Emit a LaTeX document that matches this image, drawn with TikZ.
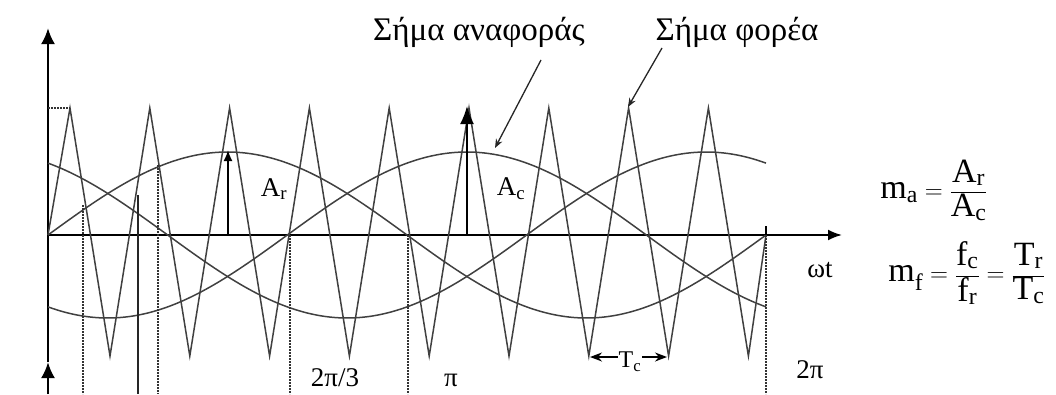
\documentclass[tikz,border=0pt]{standalone}
\usepackage{fontspec}
\setmainfont{Liberation Serif}
\usetikzlibrary{arrows.meta}
\begin{document}
\begin{tikzpicture}[x=1pt,y=-1pt,
  wave/.style={draw=black!75, line width=1.5pt, line join=miter},
  axisline/.style={draw=black, line width=2.6pt},
  guide/.style={draw=black!80, line width=1.4pt, dash pattern=on 1.6pt off 1.4pt},
  pointer/.style={draw=black!85, line width=1.3pt, -{Stealth[length=9pt,width=7pt]}},
  greek/.style={font=\fontsize{33}{38}\selectfont, inner sep=0pt},
  lbl/.style={font=\fontsize{27}{31}\selectfont, inner sep=0pt},
  formula/.style={font=\fontsize{34}{38}\selectfont, inner sep=0pt}]
\useasboundingbox (0,0) rectangle (1056,394);
% axes
\coordinate (O) at (48,235);
\coordinate (ybot) at (48,394);
\coordinate (ymid) at (48,362);
\coordinate (ytop) at (48,28);
\coordinate (xend) at (842,235);
\draw[axisline, -{Latex[length=16pt,width=14pt]}] (ybot) -- (ymid);
\draw[axisline, -{Latex[length=16pt,width=14pt]}] (ymid) -- (ytop);
\draw[axisline, line width=2pt, -{Latex[length=14pt,width=11pt]}] (O) -- (xend);
% reference signals (three phases)
\draw[wave] plot[domain=48:766,samples=160,smooth] (\x,{235-83*sin((\x-48)/718*360)});
\draw[wave] plot[domain=48:766,samples=160,smooth] (\x,{235-83*sin((\x-48)/718*360-120)});
\draw[wave] plot[domain=48:766,samples=160,smooth] (\x,{235-83*sin((\x-48)/718*360+120)});
% carrier triangle
\draw[wave] (48,235) \foreach \k in {0,...,8} { -- ({70+79.8*\k},108) -- ({110+79.8*\k},356) } -- (766,235);
% dashed top marker
\coordinate (pk) at (70,108);
\coordinate (pky) at (48,108);
\draw[guide, line width=1.6pt] (pky) -- (pk);
% vertical guides
\coordinate (g1a) at (83,205);   \coordinate (g1b) at (83,394);
\coordinate (g2a) at (138,195);  \coordinate (g2b) at (138,394);
\coordinate (g3a) at (158,165);  \coordinate (g3b) at (158,394);
\coordinate (g4a) at (290,235);  \coordinate (g4b) at (290,394);
\coordinate (g5a) at (408,235);  \coordinate (g5b) at (408,394);
\coordinate (g6a) at (766,235);  \coordinate (g6b) at (766,394);
\draw[guide] (g1a) -- (g1b);
\draw[draw=black!85, line width=1.6pt] (g2a) -- (g2b);
\draw[guide] (g3a) -- (g3b);
\draw[guide] (g4a) -- (g4b);
\draw[guide] (g5a) -- (g5b);
\draw[guide] (g6a) -- (g6b);
\coordinate (tk) at (766,226);
\draw[draw=black, line width=1.6pt] (tk) -- (g6a);
% amplitude arrows
\coordinate (ar0) at (228,235); \coordinate (ar1) at (228,150);
\draw[draw=black, line width=1.8pt, -{Latex[length=11pt,width=9pt]}] (ar0) -- (ar1);
\coordinate (ac0) at (467,235); \coordinate (ac1) at (467,106);
\draw[draw=black, line width=1.8pt, -{Latex[length=18pt,width=14pt]}] (ac0) -- (ac1);
\node[lbl] (Ar) at (274,189) {A\textsubscript{r}};
\node[lbl] (Ac) at (511,189) {A\textsubscript{c}};
% signal labels
\node[greek] (refl) at (479,32) {Σήμα αναφοράς};
\node[greek] (carl) at (737,32) {Σήμα φορέα};
\coordinate (rs) at (541,60);  \coordinate (rt) at (495,148);
\coordinate (cs) at (662,48);  \coordinate (ct) at (628,107);
\draw[pointer] (rs) -- (rt);
\draw[pointer] (cs) -- (ct);
% axis labels
\node[lbl] (wt) at (820,270) {ωt};
\node[lbl] (l23) at (335,378) {2π/3};
\node[lbl] (lpi) at (451,380) {π};
\node[lbl] (l2pi) at (810,370) {2π};
% Tc
\coordinate (tc1) at (590,357); \coordinate (tc2) at (667,357);
\draw[draw=black, line width=1.4pt, {Stealth[length=12pt,width=9pt]}-{Stealth[length=12pt,width=9pt]}] (tc1) -- (tc2);
\node[font=\fontsize{24}{28}\selectfont, fill=white, inner sep=0.5pt] (Tc) at (630,362) {T\textsubscript{c}};
% formulas
\node[formula] (ma) at (934,190) {$\displaystyle\mathrm{m_a} = \frac{\mathrm{A_r}}{\mathrm{A_c}}$};
\node[formula] (mf) at (967,273) {$\displaystyle\mathrm{m_f} = \frac{\mathrm{f_c}}{\mathrm{f_r}} = \frac{\mathrm{T_r}}{\mathrm{T_c}}$};
\end{tikzpicture}
\end{document}
